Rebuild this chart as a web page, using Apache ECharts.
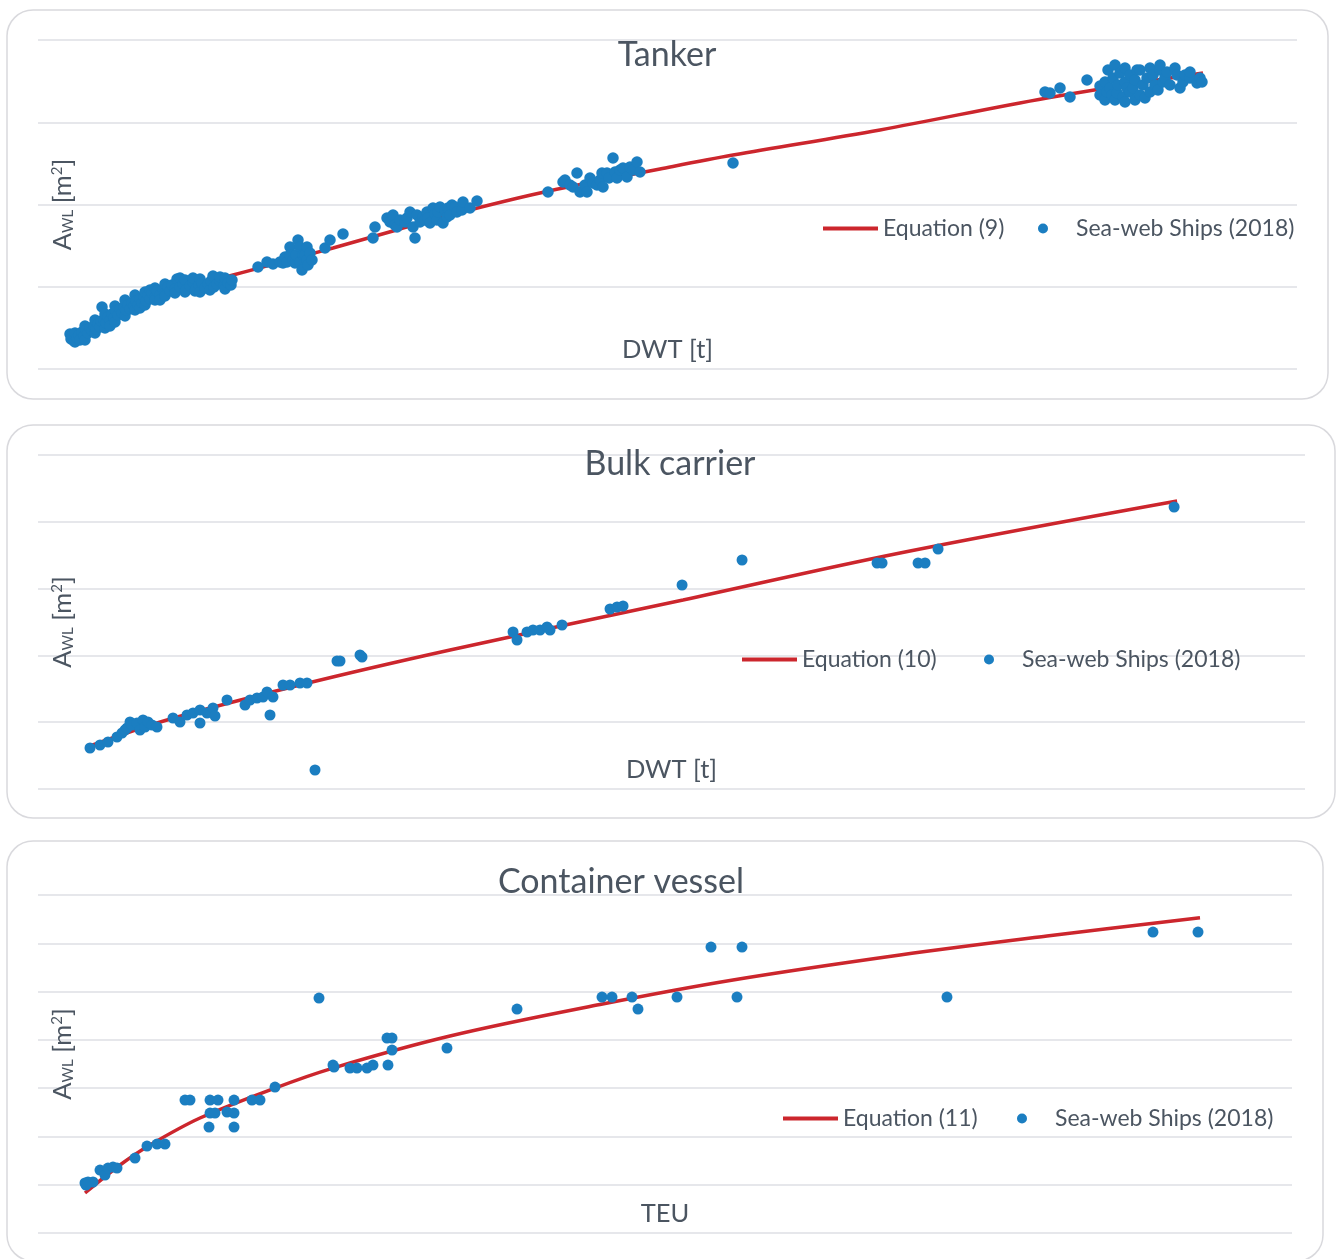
<!DOCTYPE html>
<html>
<head>
<meta charset="utf-8">
<title>Waterplane area vs. ship size</title>
<script src="https://cdn.jsdelivr.net/npm/echarts@6/dist/echarts.min.js"></script>
<style>
  html, body { margin: 0; padding: 0; background: #ffffff; }
  #chart { width: 1336px; height: 1259px; }
</style>
</head>
<body>
<div id="chart"></div>
<script>
// ---- Tanker: [DWT t, A_WL m2] ----
const tankerShips = [
  [8960,2128],[9240,1824],[9520,2006],[10080,1702],[10360,2189],[10360,1642],[10920,1885],[11480,2067],[11760,1763],
  [12320,2250],[12880,2006],[13160,1763],[13160,2614],[13440,2371],[14000,2189],[14560,2493],[15120,2310],[15680,2614],
  [15960,2189],[15960,2979],[16240,2432],[16800,2736],[17360,2554],[17640,2918],[17920,3770],[18480,2979],[18760,2493],
  [18760,3344],[19040,2797],[19600,3162],[20160,2979],[20160,2614],[20720,3344],[21280,3101],[21560,2858],[21560,3830],
  [21840,3526],[22400,3283],[22960,3648],[23520,3405],[24080,3770],[24360,4195],[24360,3222],[24640,3587],[25200,3891],
  [25760,3648],[26320,4013],[26880,3830],[27160,3587],[27160,4499],[27440,4134],[28000,3891],[28560,4256],[28560,3709],
  [29120,4013],[29680,4378],[29960,3891],[29960,4682],[30240,4134],[30800,4499],[31360,4256],[31360,4803],[31920,4621],
  [32760,4378],[32760,4195],[32760,4925],[33320,4742],[34160,4499],[34160,4195],[35000,4864],[35560,4621],[35560,4438],
  [35560,5168],[36400,4986],[36960,4742],[37520,5107],[38360,4864],[38360,4621],[38920,5472],[39760,4986],[39760,5533],
  [40600,5168],[41160,4682],[41160,5411],[41440,4803],[42560,5046],[43400,5290],[43400,5533],[43960,4742],[44240,4864],
  [45080,5107],[45360,4682],[45360,5472],[45920,5229],[46760,4925],[47600,5168],[48160,4803],[48440,5350],[49000,5654],
  [49280,4986],[50120,5168],[50960,5350],[50960,5594],[52080,5046],[52360,5533],[52360,4864],[53200,5229],[54040,5107],
  [54320,5411],
  [61600,6202],[64120,6506],[65800,6384],[67760,6506],[68600,6445],[69160,6810],[69720,6506],[70560,7418],[70560,6931],
  [71400,6627],[71960,6445],[72240,6931],[72800,7843],[73360,7418],[73360,6506],[73920,6019],[74200,6931],[74760,6931],
  [75320,7418],[75320,6627],[75600,6323],[76160,7053],[76720,6627],[80360,7357],[81760,7843],[85400,8208],
  [93800,7965],[94360,8634],[97720,9181],[98560,8938],[99400,9363],[99960,8755],[100520,8634],[101360,9059],[102760,8938],
  [103320,9181],[104160,9546],[105000,8634],[105560,7965],[106120,9363],[106960,8938],[107800,9242],[108360,9059],
  [108920,9546],[109200,9181],[109760,8877],[110600,9789],[111160,9424],[111720,9059],[112000,9546],[112560,9850],
  [113400,8877],[113960,9667],[114520,9242],[114800,9789],[115360,9363],[115920,9971],[116760,9850],[117320,9546],
  [118720,9667],[119000,10154],[120960,9789],[122920,10214],
  [142800,10762],[147000,11370],[147560,11491],[148960,11187],[149800,11066],[150920,11917],[151760,10762],[153160,11187],
  [153720,10762],[154560,11613],[155400,11309],[156520,11187],[157360,11491],[157920,11917],[158200,11066],[159320,11917],
  [159880,11613],[161000,12829],[161560,11978],[162120,11613],[162960,12099],[163800,12221],[164920,11674],[165760,12282],
  [166600,12099],[167720,12586],[168560,11978],
  [194600,12525],
  [281960,16842],[283360,16781],[286160,17085],[288960,16538],[293720,17571],[297360,17206],[297360,16659],[298760,17450],
  [298760,16355],[299320,16842],[299600,18179],[300160,17085],[300720,16659],[301000,17693],[301560,16355],[301560,18483],
  [302120,16781],[302400,17266],[302960,17997],[303800,16538],[304360,17450],[304360,16234],[304360,18301],[304920,17085],
  [305760,17875],[305760,16842],[306600,17085],[307160,17571],[307160,16355],[307720,18179],[308560,16659],[308560,18179],
  [309400,17266],[309960,16477],[310520,17693],[311360,16842],[311360,18301],[312200,17875],[312760,17266],[313600,16963],
  [314160,18179],[314160,18483],[315000,17450],[315560,17693],[316120,18058],[316960,17266],[318360,18301],[318920,17875],
  [319760,17085],[320600,17450],[321160,17875],[322560,17693],[322560,18058],[324520,17389],[325360,17693],[325920,17450]
];
const tankerEquation = [
  [9520,1885],[20160,3101],[31360,4195],[42560,5107],[54600,5715],[82600,7357],[101360,8512],
  [115360,9363],[140560,10701],[174160,12160],[194600,13011],[235760,14531],[282520,16477],[326200,17997]
];

// ---- Bulk carrier: [DWT t, A_WL m2] ----
const bulkShips = [
  [18470,3069],[22020,3293],[24860,3518],[28060,3892],[29840,4192],[30900,4416],[31610,4566],[32680,5015],
  [33390,4790],[35160,4940],[36230,4416],[37300,5165],[38010,4641],[39070,5015],[40490,4790],[42270,4641],
  [47950,5314],[50440,5015],[52920,5539],[55060,5689],[57540,4940],[57540,5913],[60030,5689],[62160,6063],
  [62870,5464],[67130,6662],[73530,6287],[75300,6662],[77790,6811],[79920,6886],[81340,7260],[82410,5539],
  [83470,6886],[87020,7784],[89510,7784],[93060,7934],[95550,7934],[98390,1422],[106200,9581],[107270,9581],
  [114370,10030],[115080,9880],
  [168720,11751],[170140,11153],[173690,11751],[175820,11901],[178310,11901],[180800,12126],[181860,11901],
  [186120,12275],[203170,13473],[205660,13623],[207790,13698],[228750,15269],[250060,17141],
  [298010,16916],[299790,16916],[312580,16916],[315060,16916],[319680,17964],[403510,21108]
];
const bulkEquation = [
  [18470,3219],[45820,5165],[93060,7784],[146340,10404],[229100,14147],[306180,17665],[404570,21557]
];

// ---- Container vessel: [TEU, A_WL m2] ----
const containerShips = [
  [825,3106],[877,3168],[965,3168],[842,2981],[1088,3913],[1175,3602],[1228,4037],[1316,4099],[1386,4037],
  [1702,4658],[1912,5404],[2088,5528],[2228,5528],[2579,8261],[2667,8261],[3018,8261],[3158,8261],[3018,7453],
  [3105,7453],[3000,6584],[3316,7515],[3439,8261],[3439,7453],[3439,6584],[3754,8261],[3895,8261],[4158,9068],
  [4930,14596],[5175,10434],[5193,10310],[5474,10248],[5596,10248],[5772,10248],[5877,10434],[6123,12111],
  [6211,12111],[6211,11366],[6140,10434],[7175,11490],[8404,13913],[9895,14658],[10070,14658],[10421,14658],
  [10526,13913],[11211,14658],[11807,17763],[12351,17763],[12263,14658],[15947,14658],[19561,18695],[20351,18695]
];
const containerEquation = [
  [825,2484],[1439,4223],[1965,5466],[2842,7143],[4158,9006],[5175,10248],[7228,12236],[9860,14192],
  [12193,15714],[15123,17267],[17702,18447],[20386,19590]
];

// ---- Panel texts ----
const panelTitles = ['Tanker', 'Bulk carrier', 'Container vessel'];
const equationNames = ['Equation (9)', 'Equation (10)', 'Equation (11)'];
const shipsName = 'Sea-web Ships (2018)';
const xNames = ['DWT [t]', 'DWT [t]', 'TEU'];
const yName = '{n|A}{s|WL}{n| [m}{p|2}{n|]}';

// ---- Axis ranges (no tick labels are drawn; gridlines follow the y interval) ----
const xMax = [352520, 450000, 22000];
const yMax = [20000, 25000, 21000];
const yStep = [5000, 5000, 3000];

const FONT = 'Lato';
const TEXT = '#4b5561';
const RED = '#cc262d';
const BLUE = '#1b7ec1';
const GRIDLINE = '#dedfe4';

const layout = [
  { grid: { left: 38, top: 40, width: 1259, height: 329 }, box: [7, 10, 1321, 389], title: [667, 38],
    lineKey: [823, 217], dotKey: [1038, 217], yPad: 0, dot: 11.5 },
  { grid: { left: 38, top: 455, width: 1267, height: 334 }, box: [7, 425, 1328, 393], title: [670, 447],
    lineKey: [742, 648], dotKey: [984, 648], yPad: 0, dot: 11 },
  { grid: { left: 38, top: 895, width: 1254, height: 338 }, box: [7, 841, 1316, 420], title: [621, 865],
    lineKey: [783, 1107], dotKey: [1017, 1107], yPad: 20, dot: 11 }
];

const shipSets = [tankerShips, bulkShips, containerShips];
const eqSets = [tankerEquation, bulkEquation, containerEquation];

const option = {
  backgroundColor: '#ffffff',
  animation: false,
  textStyle: { fontFamily: FONT },
  title: [], legend: [], grid: [], xAxis: [], yAxis: [], series: [],
  graphic: []
};

const legendText = { fontFamily: FONT, fontSize: 23, color: TEXT };

layout.forEach((p, i) => {
  option.graphic.push({
    type: 'rect', silent: true, z: -10,
    shape: { x: p.box[0], y: p.box[1], width: p.box[2], height: p.box[3], r: 26 },
    style: { fill: 'none', stroke: '#d9d9dd', lineWidth: 1.5 }
  });
  option.title.push({
    text: panelTitles[i], left: p.title[0], top: p.title[1], textAlign: 'center', padding: 0,
    textStyle: { fontFamily: FONT, fontSize: 34, fontWeight: 'normal', color: TEXT }
  });
  // Equation key: a 55 px red bar followed by its label
  option.legend.push({
    left: p.lineKey[0], top: p.lineKey[1], padding: 0,
    itemWidth: 55, itemHeight: 10, selectedMode: false,
    textStyle: legendText,
    data: [{ name: equationNames[i], icon: 'path://M0 0H55V4H0Z', itemStyle: { color: RED, borderWidth: 0 } }]
  });
  // Ships key: a dot, label set further right
  option.legend.push({
    left: p.dotKey[0], top: p.dotKey[1], padding: 0,
    itemWidth: 10, itemHeight: 10, selectedMode: false,
    textStyle: Object.assign({ padding: [0, 0, 0, 23] }, legendText),
    data: [{ name: shipsName, icon: 'circle', itemStyle: { color: BLUE, borderWidth: 0 } }]
  });
  option.grid.push(Object.assign({ containLabel: false }, p.grid));
  option.xAxis.push({
    type: 'value', gridIndex: i, min: 0, max: xMax[i],
    name: xNames[i], nameLocation: 'middle', nameGap: -32,
    nameTextStyle: { fontFamily: FONT, fontSize: 25.5, color: TEXT },
    axisLine: { show: false }, axisTick: { show: false }, axisLabel: { show: false },
    splitLine: { show: false }
  });
  option.yAxis.push({
    type: 'value', gridIndex: i, min: 0, max: yMax[i], interval: yStep[i],
    name: yName, nameLocation: 'middle', nameRotate: 90, nameGap: -38,
    nameTextStyle: {
      fontFamily: FONT, color: TEXT, padding: [0, 0, 0, p.yPad],
      rich: {
        n: { fontFamily: FONT, fontSize: 25.5, color: TEXT },
        s: { fontFamily: FONT, fontSize: 15, color: TEXT, padding: [12, 0, 0, 0] },
        p: { fontFamily: FONT, fontSize: 15, color: TEXT, padding: [0, 0, 10, 0] }
      }
    },
    axisLine: { show: false }, axisTick: { show: false }, axisLabel: { show: false },
    splitLine: { show: true, lineStyle: { color: GRIDLINE, width: 1.5 } }
  });
  option.series.push({
    name: equationNames[i], type: 'line', xAxisIndex: i, yAxisIndex: i,
    data: eqSets[i], smooth: 0.35, symbol: 'none', z: 2,
    lineStyle: { color: RED, width: 3.5 }, itemStyle: { color: RED }
  });
  option.series.push({
    name: shipsName, type: 'scatter', xAxisIndex: i, yAxisIndex: i,
    data: shipSets[i], symbolSize: p.dot, z: 3,
    itemStyle: { color: BLUE, opacity: 1 }
  });
});

const chart = echarts.init(document.getElementById('chart'), null, { renderer: 'canvas' });
chart.setOption(option);
</script>
</body>
</html>
